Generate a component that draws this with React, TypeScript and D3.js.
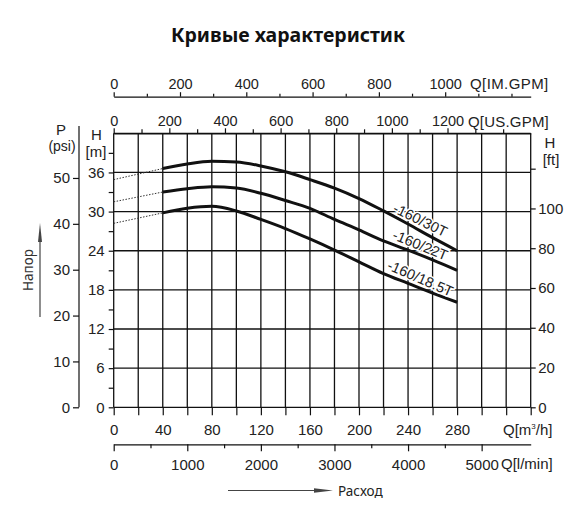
import React, { useEffect, useRef } from 'react';
import * as d3 from 'd3';

const title = 'Кривые характеристик';

// axis ticks and labels
const flowTicks = [0, 20, 40, 60, 80, 100, 120, 140, 160, 180, 200, 220, 240, 260, 280, 300, 320, 340];
const flowLabels = [0, 40, 80, 120, 160, 200, 240, 280];
const usGpmTicks = [0, 100, 200, 300, 400, 500, 600, 700, 800, 900, 1000, 1100, 1200, 1300, 1400];
const usGpmLabels = [0, 200, 400, 600, 800, 1000, 1200];
const imGpmTicks = [0, 100, 200, 300, 400, 500, 600, 700, 800, 900, 1000, 1100, 1200];
const imGpmLabels = [0, 200, 400, 600, 800, 1000];
const lminTicks = [0, 500, 1000, 1500, 2000, 2500, 3000, 3500, 4000, 4500, 5000];
const lminLabels = [0, 1000, 2000, 3000, 4000, 5000];
const headTicks = [0, 3, 6, 9, 12, 15, 18, 21, 24, 27, 30, 33, 36, 39];
const headLabels = [0, 6, 12, 18, 24, 30, 36];
const ftTicks = [0, 20, 40, 60, 80, 100, 120];
const ftLabels = [0, 20, 40, 60, 80, 100];
const psiTicks = [0, 10, 20, 30, 40, 50];

// pump curves, Q in m3/h, H in m
const curveNames = ['-160/30T', '-160/22T', '-160/18.5T'];
const curveFlow = [40, 60, 80, 100, 120, 140, 160, 180, 200, 220, 240, 260, 280];
const head30T = [36.6, 37.3, 37.7, 37.6, 37.0, 36.1, 34.9, 33.6, 32.0, 30.1, 28.1, 26.0, 24.0];
const head22T = [33.0, 33.5, 33.8, 33.6, 32.8, 31.7, 30.5, 28.8, 27.2, 25.5, 24.1, 22.6, 21.0];
const head185T = [29.8, 30.5, 30.8, 30.1, 28.8, 27.4, 25.8, 24.1, 22.3, 20.5, 19.0, 17.5, 16.1];
const dottedFlow = [0, 40];
const dotted30T = [34.9, 36.6];
const dotted22T = [31.5, 33.0];
const dotted185T = [28.2, 29.8];

const FONT = '"Liberation Sans", Arial, sans-serif';
const SANS = '"Noto Sans", "Open Sans", sans-serif';

export default function App() {
    const svgRef = useRef<SVGSVGElement>(null);

    useEffect(() => {
        if (!svgRef.current) return;
        const svg = d3.select(svgRef.current);
        svg.selectAll('*').remove();

        const x = d3.scaleLinear().domain([0, 340]).range([113.7, 530.7]);
        const y = d3.scaleLinear().domain([0, 42]).range([407.3, 133.3]);
        // unit conversions of the same axes (as printed on the sheet)
        const xUs = d3.scaleLinear().domain([0, 340 * 4.409]).range(x.range());
        const xIm = d3.scaleLinear().domain([0, 340 * 3.70]).range(x.range());
        const xL = d3.scaleLinear().domain([0, 340 * 16.6667]).range(x.range());
        const yFt = d3.scaleLinear().domain([0, 42 * 3.28084]).range(y.range());
        const yPsi = d3.scaleLinear().domain([0, 42 / 0.70307]).range(y.range());

        const [x0, x1] = x.range();
        const [y0, y1] = y.range();

        svg.append('text')
            .attr('x', 288).attr('y', 42)
            .attr('text-anchor', 'middle')
            .attr('font-family', SANS).attr('font-weight', 'bold').attr('font-size', 19.5)
            .attr('fill', '#111')
            .text(title);

        // grid
        const grid = svg.append('g').attr('stroke', '#111').attr('stroke-width', 1.3);
        grid.selectAll('line.v').data(flowTicks).join('line')
            .attr('class', 'v')
            .attr('x1', d => x(d)).attr('x2', d => x(d))
            .attr('y1', y1).attr('y2', y0);
        grid.selectAll('line.h').data([...headLabels, 42]).join('line')
            .attr('class', 'h')
            .attr('x1', x0).attr('x2', x1)
            .attr('y1', d => y(d)).attr('y2', d => y(d));

        const styleAxis = (g: d3.Selection<SVGGElement, unknown, null, undefined>, size: number) => {
            g.attr('font-family', FONT).attr('font-size', size);
            g.selectAll('.tick text').attr('fill', '#222');
            g.selectAll('line').attr('stroke', '#111').attr('stroke-width', 1.2);
            g.select('.domain').attr('stroke', '#111').attr('stroke-width', 1.3);
        };
        const fmt = (labels: number[]) => (d: d3.NumberValue) => labels.includes(+d) ? String(d) : '';

        // top IM.GPM
        const gIm = svg.append('g').attr('transform', 'translate(0,96.7)')
            .call(d3.axisTop(xIm).tickValues(imGpmTicks).tickFormat(fmt(imGpmLabels))
                .tickSizeInner(4).tickSizeOuter(0).tickPadding(4));
        styleAxis(gIm, 14.5);
        gIm.selectAll<SVGLineElement, number>('.tick line').attr('y2', d => imGpmLabels.includes(d) ? -4.5 : -3);

        // top US.GPM
        const gUs = svg.append('g').attr('transform', `translate(0,${y1})`)
            .call(d3.axisTop(xUs).tickValues(usGpmTicks).tickFormat(fmt(usGpmLabels))
                .tickSizeInner(4).tickSizeOuter(0).tickPadding(3));
        styleAxis(gUs, 14.5);
        gUs.selectAll<SVGLineElement, number>('.tick line').attr('y2', d => usGpmLabels.includes(d) ? -5 : -4);

        // bottom m3/h
        const gQ = svg.append('g').attr('transform', `translate(0,${y0})`)
            .call(d3.axisBottom(x).tickValues(flowTicks).tickFormat(fmt(flowLabels))
                .tickSizeInner(8).tickSizeOuter(0).tickPadding(9));
        styleAxis(gQ, 15);
        gQ.select('.domain').remove();

        // bottom l/min
        const gL = svg.append('g').attr('transform', 'translate(0,444.3)')
            .call(d3.axisBottom(xL).tickValues(lminTicks).tickFormat(fmt(lminLabels))
                .tickSizeInner(7).tickSizeOuter(0).tickPadding(8));
        styleAxis(gL, 15);
        gL.selectAll<SVGLineElement, number>('.tick line').attr('y2', d => lminLabels.includes(d) ? 7 : 4);

        // left H[m]
        const gH = svg.append('g').attr('transform', `translate(${x0},0)`)
            .call(d3.axisLeft(y).tickValues(headTicks).tickFormat(fmt(headLabels))
                .tickSizeInner(5).tickSizeOuter(0).tickPadding(4));
        styleAxis(gH, 15);
        gH.select('.domain').remove();

        // right H[ft]
        const gFt = svg.append('g').attr('transform', `translate(${x1},0)`)
            .call(d3.axisRight(yFt).tickValues(ftTicks).tickFormat(fmt(ftLabels))
                .tickSizeInner(5).tickSizeOuter(0).tickPadding(2.5));
        styleAxis(gFt, 15);
        gFt.select('.domain').remove();

        // left P(psi)
        const gP = svg.append('g').attr('transform', 'translate(79,0)')
            .call(d3.axisLeft(yPsi).tickValues(psiTicks).tickFormat(d => String(d))
                .tickSizeInner(6).tickSizeOuter(0).tickPadding(3));
        styleAxis(gP, 15);
        gP.select('.domain').remove();
        gP.append('line').attr('x1', 0).attr('x2', 0).attr('y1', 126).attr('y2', yPsi(0))
            .attr('stroke', '#111').attr('stroke-width', 1.2);

        // unit labels
        const unit = svg.append('g').attr('font-family', FONT).attr('fill', '#222');
        unit.append('text').attr('x', 470).attr('y', 89).attr('font-size', 15).attr('letter-spacing', 0.4).text('Q[IM.GPM]');
        unit.append('text').attr('x', 468).attr('y', 126.5).attr('font-size', 15).attr('letter-spacing', 0.2).text('Q[US.GPM]');
        const qm = unit.append('text').attr('x', 503).attr('y', 435).attr('font-size', 15);
        qm.append('tspan').text('Q[m');
        qm.append('tspan').attr('font-size', 8).attr('dy', -6).text('3');
        qm.append('tspan').attr('dy', 6).text('/h]');
        unit.append('text').attr('x', 501).attr('y', 469).attr('font-size', 15).text('Q[l/min]');
        unit.append('text').attr('x', 96.5).attr('y', 140).attr('font-size', 15).attr('text-anchor', 'middle').text('H');
        unit.append('text').attr('x', 96).attr('y', 157).attr('font-size', 15).attr('text-anchor', 'middle').text('[m]');
        unit.append('text').attr('x', 61).attr('y', 135).attr('font-size', 15).attr('text-anchor', 'middle').text('P');
        unit.append('text').attr('x', 62).attr('y', 151).attr('font-size', 14).attr('text-anchor', 'middle').text('(psi)');
        unit.append('text').attr('x', 550).attr('y', 148).attr('font-size', 15).attr('text-anchor', 'middle').text('H');
        unit.append('text').attr('x', 551).attr('y', 165).attr('font-size', 15).attr('text-anchor', 'middle').text('[ft]');

        // curves
        const heads = [head30T, head22T, head185T];
        const dotted = [dotted30T, dotted22T, dotted185T];
        const line = d3.line<[number, number]>().x(d => x(d[0])).y(d => y(d[1])).curve(d3.curveMonotoneX);
        dotted.forEach(ds => {
            svg.append('path')
                .attr('d', d3.line<[number, number]>().x(d => x(d[0])).y(d => y(d[1]))(dottedFlow.map((q, i) => [q, ds[i]])))
                .attr('fill', 'none').attr('stroke', '#333').attr('stroke-width', 1)
                .attr('stroke-dasharray', '1.5 1.5');
        });
        heads.forEach(hs => {
            svg.append('path')
                .attr('d', line(curveFlow.map((q, i) => [q, hs[i]])))
                .attr('fill', 'none').attr('stroke', '#111').attr('stroke-width', 3)
                .attr('stroke-linecap', 'butt');
        });

        // curve labels, sitting on the curves near Q = 250
        const labelOffset = [11, 10, 10];
        const labelAngle = [26, 22, 23.5];
        curveNames.forEach((name, i) => {
            const q = 250;
            const h = d3.interpolateNumber(heads[i][10], heads[i][11])(0.5);
            svg.append('text')
                .attr('transform', `translate(${x(q)},${y(h) - labelOffset[i]}) rotate(${labelAngle[i]})`)
                .attr('text-anchor', 'middle').attr('dy', '0.35em')
                .attr('font-family', FONT).attr('font-size', 14.5).attr('fill', '#222')
                .attr('stroke', '#fff').attr('stroke-width', 3).attr('paint-order', 'stroke')
                .text(name);
        });

        // axis captions with arrows
        svg.append('line').attr('x1', 40).attr('x2', 40).attr('y1', 317).attr('y2', 238)
            .attr('stroke', '#444').attr('stroke-width', 1.2);
        svg.append('path').attr('d', 'M40,223 L42,242 L38,242 Z').attr('fill', '#444');
        svg.append('text')
            .attr('transform', 'translate(33,270) rotate(-90)')
            .attr('text-anchor', 'middle')
            .attr('font-family', SANS).attr('font-size', 13.5).attr('fill', '#333')
            .text('Напор');
        svg.append('line').attr('x1', 228).attr('x2', 318).attr('y1', 490.5).attr('y2', 490.5)
            .attr('stroke', '#444').attr('stroke-width', 1.2);
        svg.append('path').attr('d', 'M333,490.5 L314,488.3 L314,492.7 Z').attr('fill', '#444');
        svg.append('text')
            .attr('x', 338).attr('y', 495.5)
            .attr('font-family', SANS).attr('font-size', 13.5).attr('fill', '#222')
            .text('Расход');
    }, []);

    return (
        <svg ref={svgRef} width={583} height={506}
            style={{ position: 'absolute', left: 0, top: 0, background: '#fff' }} />
    );
}
